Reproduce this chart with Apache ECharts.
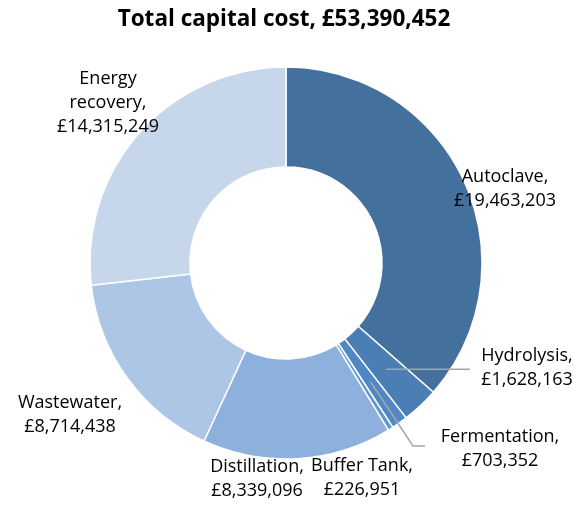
<!DOCTYPE html>
<html>
<head>
<meta charset="utf-8">
<script src="https://cdn.jsdelivr.net/npm/echarts@6/dist/echarts.min.js"></script>
<style>
html,body{margin:0;padding:0;background:#fff;}
#chart{width:582px;height:509px;}
</style>
</head>
<body>
<div id="chart"></div>
<script>
var titleText = 'Total capital cost, £53,390,452';
var categories = ['Autoclave', 'Hydrolysis', 'Fermentation', 'Buffer Tank', 'Distillation', 'Wastewater', 'Energy recovery'];
var labelNames = ['Autoclave,', 'Hydrolysis,', 'Fermentation,', 'Buffer Tank,', 'Distillation,', 'Wastewater,', 'Energy\nrecovery,'];
var values = [19463203, 1628163, 703352, 226951, 8339096, 8714438, 14315249];
var colors = ['#43709C', '#4A7EB4', '#4F88C4', '#5F96CE', '#8DB0DC', '#ADC6E6', '#C6D7EC'];

// layout (not data)
var CX = 286, CY = 263, R0 = 96, R1 = 196;
var labelPos = [[505, 189], [527, 368], [500, 449], [362, 478], [257, 479], [70, 415], [108, 103]];
// leader lines: [index, elbow point or null, end point]
var leaders = [
  { idx: 1, via: null, end: [470, 'start'] },
  { idx: 2, via: [413, 446], end: [425, 446] }
];

function fmt(v) {
  return '£' + String(v).replace(/\B(?=(\d{3})+(?!\d))/g, ',');
}

var total = values.reduce(function (a, b) { return a + b; }, 0);
function midPoint(i) {
  var before = 0;
  for (var k = 0; k < i; k++) before += values[k];
  var frac = (before + values[i] / 2) / total;
  var ang = frac * 2 * Math.PI; // clockwise from top
  var r = (R0 + R1) / 2;
  return [CX + r * Math.sin(ang), CY - r * Math.cos(ang)];
}

var graphics = leaders.map(function (l) {
  var s = midPoint(l.idx);
  var pts = [s];
  if (l.via) pts.push(l.via);
  var e = l.end[1] === 'start' ? [l.end[0], s[1]] : l.end;
  pts.push(e);
  return {
    type: 'polyline',
    z: 100,
    shape: { points: pts },
    style: { stroke: '#A6A6A6', lineWidth: 1.5, fill: null }
  };
});

var data = categories.map(function (c, i) {
  return { name: c, value: values[i], itemStyle: { color: colors[i] } };
});

var chart = echarts.init(document.getElementById('chart'), null, { renderer: 'canvas' });
chart.setOption({
  animation: false,
  backgroundColor: '#ffffff',
  title: {
    text: titleText,
    left: 279,
    textAlign: 'center',
    top: 3,
    textStyle: { fontFamily: 'Open Sans', fontWeight: 'bold', fontSize: 22.5, color: '#000' }
  },
  graphic: graphics,
  series: [{
    type: 'pie',
    center: [CX, CY],
    radius: [R0, R1],
    startAngle: 90,
    clockwise: true,
    avoidLabelOverlap: false,
    itemStyle: { borderColor: '#ffffff', borderWidth: 1.5 },
    label: {
      show: true,
      position: 'outside',
      fontFamily: 'Open Sans',
      fontSize: 18,
      lineHeight: 24,
      color: '#000',
      align: 'center',
      formatter: function (p) {
        return labelNames[p.dataIndex] + '\n' + fmt(p.value);
      }
    },
    labelLine: { show: false },
    labelLayout: function (p) {
      var pos = labelPos[p.dataIndex];
      return { x: pos[0], y: pos[1], align: 'center', verticalAlign: 'middle' };
    },
    data: data
  }]
});
</script>
</body>
</html>
